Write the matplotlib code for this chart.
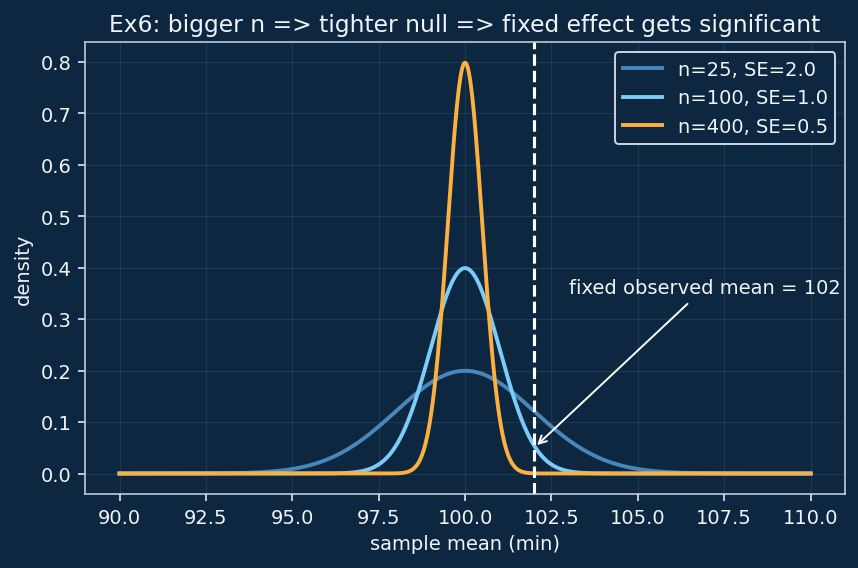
import numpy as np
import matplotlib
matplotlib.use("Agg")
import matplotlib.pyplot as plt

# --- Data ---
null_mean = 100.0
sample_sizes = [25, 100, 400]
std_errors = [2.0, 1.0, 0.5]
observed_mean = 102
x_range = (90, 110)

colors = ["#4886bc", "#7cccf8", "#fbb040"]
bg = "#0d2740"
fg = "#f0f4f8"

plt.rcParams.update({
    "text.color": fg,
    "axes.labelcolor": fg,
    "xtick.color": fg,
    "ytick.color": fg,
    "axes.edgecolor": "#c9d6e3",
})

fig, ax = plt.subplots(figsize=(6.129, 4.064), dpi=140)
fig.patch.set_facecolor(bg)
ax.set_facecolor(bg)

x = np.linspace(x_range[0], x_range[1], 800)
for n, se, c in zip(sample_sizes, std_errors, colors):
    y = np.exp(-0.5 * ((x - null_mean) / se) ** 2) / (se * np.sqrt(2 * np.pi))
    ax.plot(x, y, color=c, lw=2, label=f"n={n}, SE={se}")

ax.axvline(observed_mean, color="white", ls="--", lw=1.6)
ax.annotate(f"fixed observed mean = {observed_mean}", xy=(observed_mean, 0.05),
            xytext=(103, 0.35), color=fg,
            arrowprops=dict(arrowstyle="->", color="white", lw=1))

ax.grid(True, color="#3a5a78", alpha=0.35, lw=0.6)
ax.set_title("Ex6: bigger n => tighter null => fixed effect gets significant", color=fg)
ax.set_xlabel("sample mean (min)")
ax.set_ylabel("density")

leg = ax.legend(loc="upper right", facecolor=bg, edgecolor="#c9d6e3", framealpha=1)
for t in leg.get_texts():
    t.set_color(fg)

fig.subplots_adjust(left=0.099, right=0.985, bottom=0.130, top=0.924)
fig.savefig("out.png", facecolor=bg)
